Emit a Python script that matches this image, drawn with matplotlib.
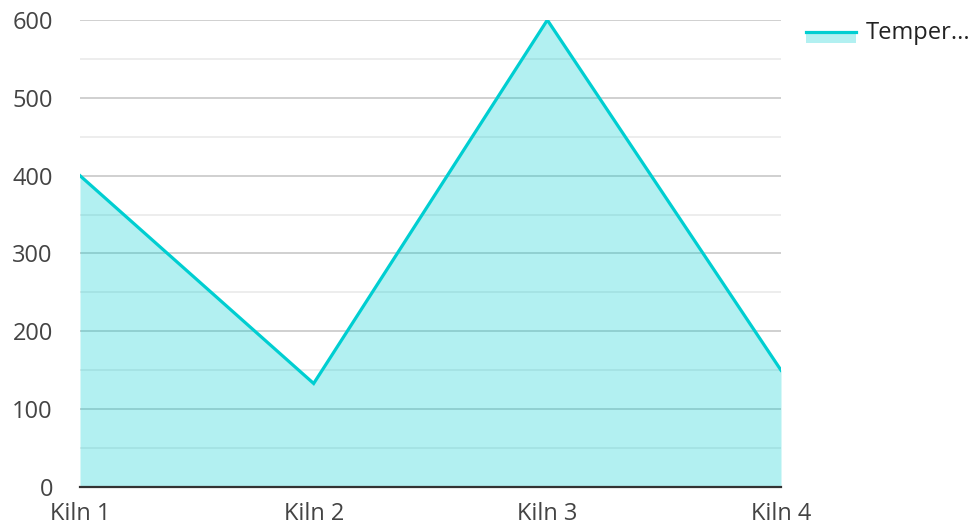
import matplotlib.pyplot as plt
from matplotlib.patches import Rectangle
from matplotlib.lines import Line2D

kilns = ['Kiln 1', 'Kiln 2', 'Kiln 3', 'Kiln 4']
temperature = [400, 133, 600, 150]
series_name = 'Temper...'

plt.rcParams['font.family'] = ['Open Sans', 'DejaVu Sans']

fig = plt.figure(figsize=(9.71, 5.26), dpi=100)
ax = fig.add_axes([80 / 971, 39 / 526, 701 / 971, 467 / 526])

x = list(range(len(kilns)))
ax.fill_between(x, temperature, 0, color='#00CED1', alpha=0.3, linewidth=0, zorder=2)
ax.plot(x, temperature, color='#00CED1', linewidth=2.3, zorder=3, solid_joinstyle='miter')

ax.set_xlim(0, len(kilns) - 1)
ax.set_ylim(0, 600)
ax.set_yticks(range(0, 601, 100))
ax.set_yticks(range(50, 600, 100), minor=True)
ax.set_xticks(x)
ax.set_xticklabels(kilns)

ax.grid(axis='y', which='major', color='#c4c4c4', linewidth=1.1, zorder=1)
ax.grid(axis='y', which='minor', color='#e8e8e8', linewidth=1.1, zorder=1)
ax.set_axisbelow(True)

for s in ['top', 'right', 'left']:
    ax.spines[s].set_visible(False)
ax.spines['bottom'].set_color('#333333')
ax.spines['bottom'].set_linewidth(1.6)
ax.spines['bottom'].set_zorder(4)

ax.tick_params(axis='both', which='both', length=0, labelsize=17, labelcolor='#444444')
ax.tick_params(axis='y', pad=19.5)
ax.tick_params(axis='x', pad=11)

# legend
fig.add_artist(Rectangle((806 / 971, 1 - 43 / 526), 50 / 971, 12 / 526,
                         transform=fig.transFigure, color='#00CED1', alpha=0.3, linewidth=0))
fig.add_artist(Line2D([806 / 971, 856 / 971], [1 - 32 / 526, 1 - 32 / 526],
                      transform=fig.transFigure, color='#00CED1', linewidth=2.3))
fig.text(866 / 971, 1 - 33 / 526, series_name, fontsize=17, color='#222222', va='center', ha='left')

fig.savefig('out.png', dpi=100)
